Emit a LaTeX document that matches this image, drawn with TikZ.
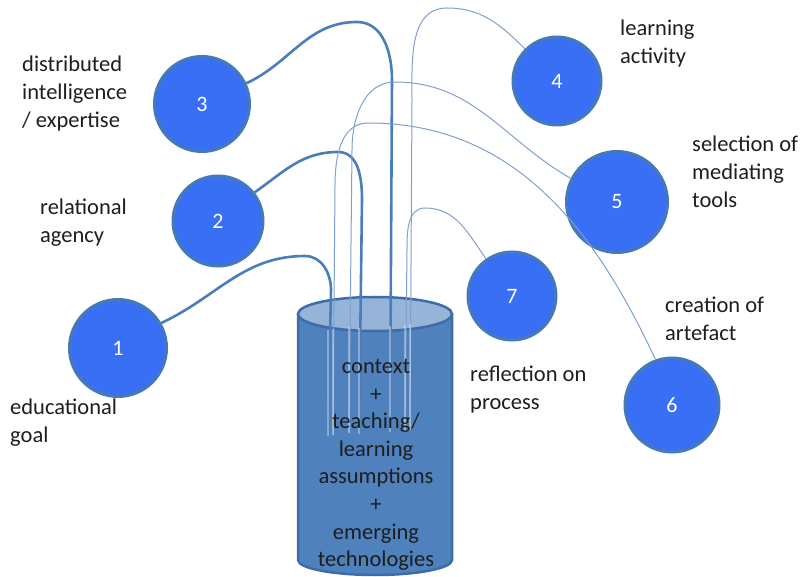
\documentclass[tikz,border=0pt]{standalone}
\usepackage{fontspec}
\setmainfont{Carlito}
\definecolor{ballblue}{RGB}{56,111,245}
\definecolor{rimblue}{RGB}{70,122,182}
\definecolor{stemblue}{RGB}{74,126,187}
\definecolor{hairblue}{RGB}{128,160,204}
\definecolor{tubeblue}{RGB}{79,129,189}
\definecolor{tubetop}{RGB}{150,180,216}
\definecolor{tubeedge}{RGB}{62,108,168}
\definecolor{ink}{RGB}{30,30,30}
\tikzstyle{ball}=[circle,fill=ballblue,draw=rimblue,line width=3pt,text=white,font=\fontsize{22}{26}\selectfont,inner sep=0pt]
\tikzstyle{topic}=[anchor=north west,align=left,inner sep=0pt,text=ink,font=\fontsize{22.5}{28}\selectfont]
\tikzstyle{thickstem}=[draw=stemblue,line width=2.6pt]
\tikzstyle{thinstem}=[draw=hairblue,line width=1pt]
\tikzstyle{inside}=[draw=white,opacity=.35,line width=1.4pt]

\begin{document}
\begin{tikzpicture}[x=1pt,y=1pt]
\useasboundingbox (0,0) rectangle (804,-577);
% the container
\draw[tubeedge,line width=2.5pt,fill=tubeblue] (298,-314) -- (298,-560) arc[start angle=180,end angle=360,x radius=77,y radius=15] -- (452,-314);
\draw[tubeedge,line width=2.5pt,fill=tubetop] (375,-314) ellipse[x radius=77,y radius=17];

% where each stem starts inside the container
\foreach \i/\x/\y in {1/328/436,2/359/434,3/390/432,4/410/430,5/349/433,6/333/435,7/405/431}
  \coordinate (foot\i) at (\x,-\y);

% the seven steps
\node[ball,minimum size=97pt] (n1) at (118,-348) {1};
\node[ball,minimum size=90pt] (n2) at (218,-221) {2};
\node[ball,minimum size=95pt] (n3) at (202,-104) {3};
\node[ball,minimum size=88pt] (n4) at (557,-81) {4};
\node[ball,minimum size=101pt] (n5) at (617,-202) {5};
\node[ball,minimum size=94pt] (n6) at (672,-405) {6};
\node[ball,minimum size=88pt] (n7) at (512,-296) {7};

% stems out of the container
\draw[thickstem] (foot1) -- (331,-290) to[out=90,in=0] (305,-256) to[out=180,in=25] (n1.30);
\draw[thickstem] (foot2) -- (362,-200) to[out=90,in=0] (338,-152) to[out=180,in=35] (n2.38);
\draw[thickstem] (foot3) -- (392,-80) to[out=90,in=0] (357,-22) to[out=180,in=25] (n3.25);
\draw[thinstem] (foot4) -- (412,-100) to[out=90,in=180] (447,-8) to[out=0,in=135] (n4.135);
\draw[thinstem] (foot5) -- (352,-150) to[out=90,in=180] (395,-82) to[out=0,in=150] (n5.153);
\draw[thinstem] (foot6) -- (335,-185) to[out=90,in=180] (368,-123) to[out=0,in=115] (n6.110);
\draw[thinstem] (foot7) -- (407,-250) to[out=90,in=180] (425,-208) to[out=0,in=125] (n7.125);
\foreach \i in {1,...,7}
  \draw[inside] (foot\i) -- ++(0,106);

\node[align=center,anchor=north,inner sep=0pt,text=ink,font=\fontsize{22.5}{27.6}\selectfont] (core) at (376,-359)
  {context\\+\\teaching/\\learning\\assumptions\\+\\emerging\\technologies};

% captions
\node[topic] (t1) at (10,-399) {educational\\goal};
\node[topic] (t2) at (40,-199) {relational\\agency};
\node[topic] (t3) at (22,-56) {distributed\\intelligence\\/ expertise};
\node[topic] (t4) at (620,-20) {learning\\activity};
\node[topic] (t5) at (692,-136) {selection of\\mediating\\tools};
\node[topic] (t6) at (665,-297) {creation of\\artefact};
\node[topic] (t7) at (470,-366) {reflection on\\process};
\end{tikzpicture}
\end{document}
